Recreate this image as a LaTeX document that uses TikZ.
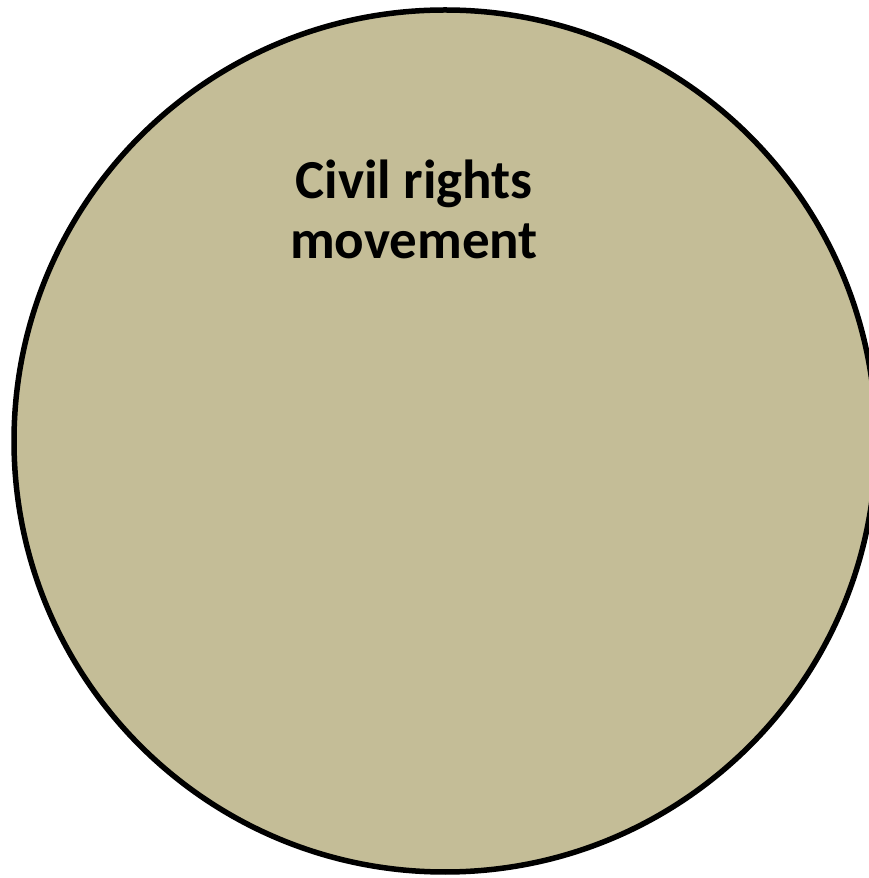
\documentclass[tikz,border=0pt]{standalone}
\usepackage{fontspec}
\setmainfont{Carlito}
\definecolor{tanfill}{HTML}{C4BD97}
\tikzset{
  bigcircle/.style={circle, draw=black, line width=5.5pt, fill=tanfill, minimum size=862pt, inner sep=0pt},
  label text/.style={align=center, font=\fontsize{55}{60}\selectfont\bfseries, inner sep=0pt}
}
\begin{document}
\begin{tikzpicture}[x=1pt,y=1pt]
\useasboundingbox (0,0) rectangle (869,878);
\clip (0,0) rectangle (869,878);
\node[bigcircle] (circ) at (445,437) {};
\node[label text, anchor=base] (lbl) at (414,619) {Civil rights\\movement};
\end{tikzpicture}
\end{document}
